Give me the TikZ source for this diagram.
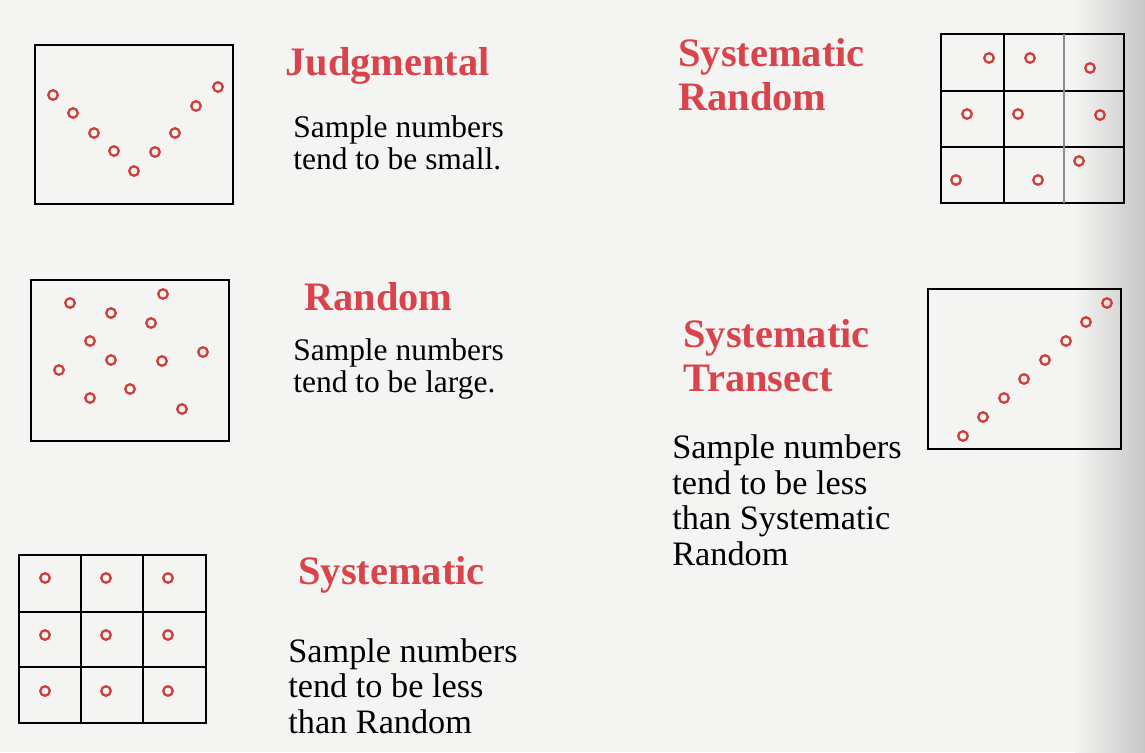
\documentclass[tikz,border=0pt]{standalone}
\usepackage{fontspec}
\setmainfont{Liberation Serif}
\usetikzlibrary{positioning}
\definecolor{headred}{HTML}{D9434B}
\definecolor{ringred}{HTML}{CC3F3C}
\definecolor{pagegray}{HTML}{F4F4F2}

\begin{document}
\begin{tikzpicture}[
    x=0.02cm,y=-0.02cm,
    plotbox/.style = {draw=black,line width=1.1pt},
    gridln/.style  = {draw=black,line width=0.9pt},
    ttl/.style     = {anchor=base west,inner sep=0pt,align=left,text=headred,
                      font=\fontsize{23}{25}\selectfont\bfseries},
    desc/.style    = {anchor=base west,inner sep=0pt,align=left,
                      font=\fontsize{19.5}{20.2}\selectfont},
    descs/.style   = {desc,font=\fontsize{17.9}{18}\selectfont},
    samp/.style    = {draw=ringred,line width=1.3pt,radius=0.095cm},
  ]

  % page
  \fill[pagegray] (0,0) rectangle (1145,752);
  \shade[left color=pagegray,right color=black!22] (1075,0) rectangle (1145,752);
  \useasboundingbox (0,0) rectangle (1145,752);

  % judgmental
  \draw[plotbox] (35,45) rectangle (233,204);
  \foreach \x/\y in {53/95,73/113,94/133,114/151,134/171,155/152,175/133,196/106,218/87}
    \draw[samp] (\x,\y) circle;
  \node[ttl]   (judg)     at (285,75)  {Judgmental};
  \node[descs] (judgtxt)  at (293,169) {Sample numbers\\tend to be small.};

  % random
  \draw[plotbox] (31,280) rectangle (229,441);
  \foreach \x/\y in {70/303,163/294,111/313,151/323,90/341,203/352,
                     111/360,162/361,59/370,130/389,90/398,182/409}
    \draw[samp] (\x,\y) circle;
  \node[ttl]   (rand)     at (304,310) {Random};
  \node[descs] (randtxt)  at (293,392) {Sample numbers\\tend to be large.};

  % systematic
  \draw[plotbox] (19,555) rectangle (206,723);
  \draw[gridln] (81,555) -- (81,723) (143,555) -- (143,723)
                (19,612) -- (206,612) (19,667) -- (206,667);
  \foreach \x in {45,106,168}
    \foreach \y in {578,635,691}
      \draw[samp] (\x,\y) circle;
  \node[ttl]   (syst)     at (298,584) {Systematic};
  \node[desc]  (systtxt)  at (288,733) {Sample numbers\\tend to be less\\than Random};

  % systematic random
  \draw[plotbox] (941,34) rectangle (1124,203);
  \draw[gridln] (1004,34) -- (1004,203) (941,91) -- (1124,91) (941,147) -- (1124,147);
  \draw[gridln,draw=black!45] (1064,34) -- (1064,203);
  \foreach \x/\y in {989/58,1030/58,1090/68,967/114,1018/114,1100/115,
                     1079/161,956/180,1038/180}
    \draw[samp] (\x,\y) circle;
  \node[ttl]   (sysrand)  at (678,110) {Systematic\\Random};

  % systematic transect
  \draw[plotbox] (928,289) rectangle (1121,449);
  \foreach \x/\y in {963/436,983/417,1004/398,1024/379,1045/360,1066/341,1086/322,1107/303}
    \draw[samp] (\x,\y) circle;
  \node[ttl]   (transect) at (683,391) {Systematic\\Transect};
  \node[desc]  (transtxt) at (672,565) {Sample numbers\\tend to be less\\than Systematic\\Random};

\end{tikzpicture}
\end{document}
